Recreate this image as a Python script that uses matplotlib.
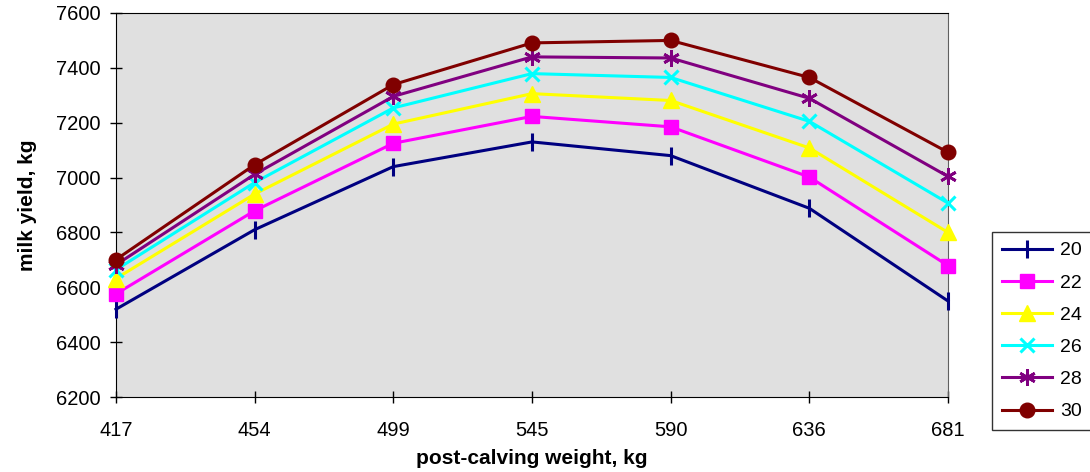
import matplotlib.pyplot as plt

# post-calving weight categories and milk yield per series
weights = ["417", "454", "499", "545", "590", "636", "681"]
series_names = ["20", "22", "24", "26", "28", "30"]
y20 = [6520, 6810, 7040, 7130, 7080, 6888, 6550]
y22 = [6576, 6879, 7125, 7223, 7185, 7002, 6679]
y24 = [6632, 6940, 7195, 7306, 7281, 7108, 6800]
y26 = [6664, 6982, 7254, 7379, 7365, 7205, 6907]
y28 = [6682, 7012, 7296, 7440, 7436, 7289, 7004]
y30 = [6701, 7047, 7339, 7491, 7500, 7365, 7092]

plt.rcParams['font.family'] = ['Liberation Sans', 'DejaVu Sans']

styles = [
    dict(color="#000080", marker="|", ms=13, mew=2.2),
    dict(color="#FF00FF", marker="s", ms=10),
    dict(color="#FFFF00", marker="^", ms=11),
    dict(color="#00FFFF", marker="x", ms=10, mew=2.2),
    dict(color="#800080", marker=(6, 2, 0), ms=12, mew=2.0),
    dict(color="#800000", marker="o", ms=10.5),
]

fig = plt.figure(figsize=(10.9, 4.72), dpi=100)
ax = fig.add_axes([116 / 1090, 75 / 472, 832 / 1090, 384 / 472])
ax.set_facecolor("#E0E0E0")

x = range(len(weights))
for name, ys, st in zip(series_names, [y20, y22, y24, y26, y28, y30], styles):
    ax.plot(x, ys, lw=2.2, label=name, clip_on=False, zorder=3, **st)

ax.set_xlim(0, len(weights) - 1)
ax.set_ylim(6200, 7600)
ax.set_xticks(list(x))
ax.set_xticklabels(weights)
ax.set_yticks(range(6200, 7601, 200))
ax.tick_params(direction="inout", length=9, width=1, labelsize=14.5)
ax.tick_params(axis="y", pad=6.5)
ax.tick_params(axis="x", pad=13)
for s in ["left", "bottom", "top"]:
    ax.spines[s].set_color("black")
ax.spines["right"].set_color("#606060")

ax.set_xlabel("post-calving weight, kg", fontsize=15, fontweight="bold", labelpad=6)
ax.set_ylabel("milk yield, kg", fontsize=15, fontweight="bold", labelpad=14)

leg = fig.legend(loc="upper left", bbox_to_anchor=(992 / 1090, 1 - 232 / 472),
                 fontsize=14, frameon=True, fancybox=False, edgecolor="black",
                 handlelength=2.6, handletextpad=0.4, borderpad=0.5,
                 labelspacing=0.75, borderaxespad=0)
leg.get_frame().set_linewidth(1.0)

fig.savefig("out.png", dpi=100)
